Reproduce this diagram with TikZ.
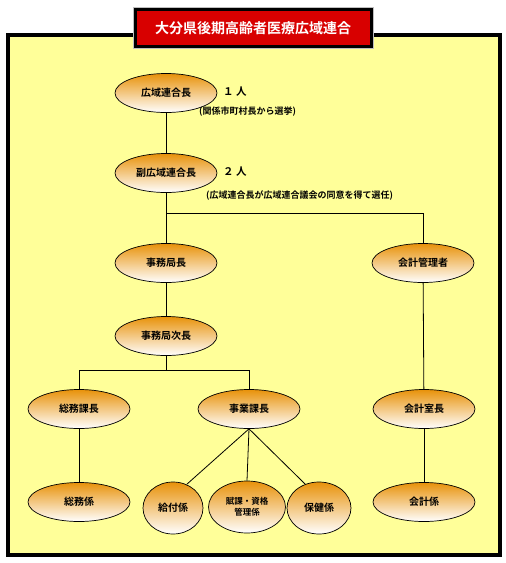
\documentclass[tikz,border=0pt]{standalone}
\usepackage{fontspec}
\setmainfont{Noto Sans CJK JP}[BoldFont={Noto Sans CJK JP Bold}]
\usetikzlibrary{shapes.geometric}
\definecolor{bgyellow}{HTML}{FFFF99}
\definecolor{titlered}{HTML}{D80000}
\definecolor{ellorange}{HTML}{E8920A}
\tikzset{
  post/.style={ellipse, draw=black, line width=0.7pt, top color=ellorange, bottom color=white,
    minimum width=102pt, minimum height=39pt, inner sep=0pt, font=\fontsize{10}{12}\selectfont\bfseries},
  smallpost/.style={post, minimum width=#1, minimum height=52pt},
  conn/.style={line width=0.8pt, draw=black},
  note/.style={font=\fontsize{9}{11}\selectfont\bfseries, anchor=west, inner sep=0pt},
}
\begin{document}
\begin{tikzpicture}[x=1pt,y=-1pt]
\useasboundingbox (0,0) rectangle (506,563);
% outer frame
\draw[line width=4pt, fill=bgyellow] (8,35) rectangle (500,555);
% title
\draw[line width=0.8pt, draw=gray!50] (133,7) rectangle (373,48);
\node[draw=black, line width=3pt, fill=titlered, minimum width=236pt, minimum height=37pt, inner sep=0pt,
  text=white, font=\fontsize{14}{16}\selectfont\bfseries] (title) at (253,28) {大分県後期高齢者医療広域連合};
% nodes
\node[post] (chief) at (166,93) {広域連合長};
\node[post] (vice) at (166,173) {副広域連合長};
\node[post] (jim) at (166,263) {事務局長};
\node[post] (jimv) at (166,336) {事務局次長};
\node[post] (kaikei) at (423,263) {会計管理者};
\node[post] (somuk) at (79,409) {総務課長};
\node[post] (jigyok) at (249,409) {事業課長};
\node[post] (kaikeis) at (424,409) {会計室長};
\node[post] (somug) at (79,502) {総務係};
\node[smallpost=60pt] (kyufu) at (173,508) {給付係};
\node[smallpost=77pt, font=\fontsize{8.5}{11}\selectfont\bfseries, align=center] (fuka) at (247,507) {賦課・資格\\管理係};
\node[smallpost=64pt] (hoken) at (319,508) {保健係};
\node[post] (kaikeig) at (424,502) {会計係};
% notes
\node[note, font=\fontsize{10.5}{12}\selectfont\bfseries] (n1) at (223,92) {１ 人};
\node[note] (n1b) at (199,112) {(関係市町村長から選挙)};
\node[note, font=\fontsize{10.5}{12}\selectfont\bfseries] (n2) at (223,172) {２ 人};
\node[note] (n2b) at (206,196) {(広域連合長が広域連合議会の同意を得て選任)};
% connectors
\coordinate (j1) at (166,213);
\coordinate (j2) at (423,213);
\coordinate (j3) at (166,370);
\coordinate (j4) at (79,370);
\coordinate (j5) at (249,370);
\draw[conn] (chief) -- (vice);
\draw[conn] (vice) -- (jim);
\draw[conn] (j1) -- (j2) -- (kaikei);
\draw[conn] (jim) -- (jimv);
\draw[conn] (jimv) -- (j3);
\draw[conn] (j4) -- (j5);
\draw[conn] (j4) -- (somuk);
\draw[conn] (j5) -- (jigyok);
\draw[conn] (kaikei) -- (kaikeis);
\draw[conn] (somuk) -- (somug);
\draw[conn] (kaikeis) -- (kaikeig);
\draw[conn] (jigyok.south) -- (kyufu.60);
\draw[conn] (jigyok.south) -- (fuka.north);
\draw[conn] (jigyok.south) -- (hoken.120);
\end{tikzpicture}
\end{document}
